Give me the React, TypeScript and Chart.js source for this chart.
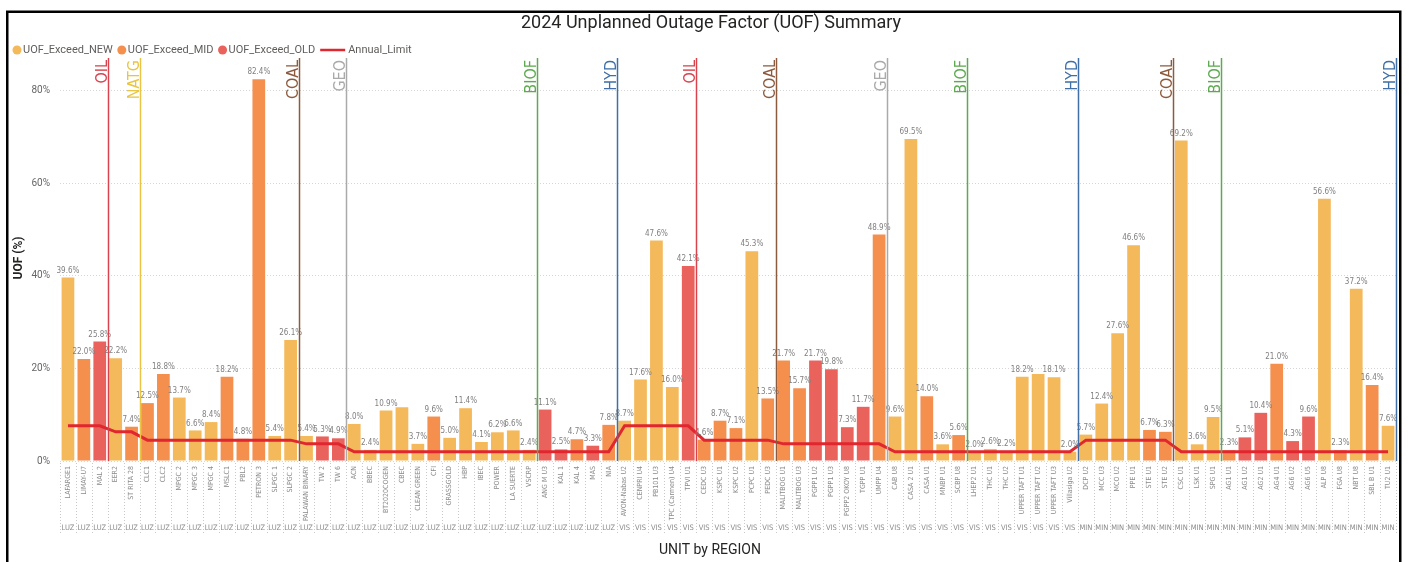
import { useEffect, useRef } from 'react';
import { Chart, registerables } from 'chart.js';
Chart.register(...registerables);

const chartTitle = '2024 Unplanned Outage Factor (UOF) Summary';
const xTitle = 'UNIT by REGION';
const yTitle = 'UOF (%)';
const seriesNames = ['UOF_Exceed_NEW', 'UOF_Exceed_MID', 'UOF_Exceed_OLD'];
const lineName = 'Annual_Limit';
const yTicks = [0, 20, 40, 60, 80];

const units = [
  'LAFARGE1', 'LIMAY-U7', 'MAL 2', 'EER2', 'ST RITA 28', 'CLC1', 'CLC2', 'MPGC 2', 'MPGC 3', 'MPGC 4',
  'MSLC1', 'PBL2', 'PETRON 3', 'SLPGC 1', 'SLPGC 2', 'PALAWAN BINARY', 'TW 2', 'TW 6', 'ACN', 'BBEC',
  'BT2020COGEN', 'CBEC', 'CLEAN GREEN', 'CFI', 'GRASSGOLD', 'HBP', 'IBEC', 'POWER', 'LA SUERTE', 'VSCRP',
  'ANG M U3', 'KAL 1', 'KAL 4', 'MAS', 'NIA',
  'AVON-Nabas U2', 'CENPRI U4', 'PB101 U3', 'TPC (Carmen) U4', 'TPVI U1', 'CEDC U3', 'KSPC U1', 'KSPC U2',
  'PCPC U1', 'PEDC U3', 'MALITBOG U1', 'MALITBOG U3', 'PGPP1 U2', 'PGPP1 U3', 'PGPP2 OKOY U8', 'TGPP U1',
  'UMPP U4', 'CAB U8', 'CASA 2 U1', 'CASA U1', 'MNBP U1', 'SCBP U8', 'LHEP2 U1', 'THC U1', 'THC U2',
  'UPPER TAFT U1', 'UPPER TAFT U2', 'UPPER TAFT U3', 'Villasiga U2',
  'DCP U2', 'MCC U3', 'MCO U2', 'PPE U1', 'STE U1', 'STE U2', 'CSC U1', 'LSK U1', 'SPG U1', 'AG1 U1',
  'AG1 U2', 'AG2 U1', 'AG4 U1', 'AG6 U2', 'AG6 U5', 'ALP U8', 'FGA U8', 'NBT U8', 'SBL B U1', 'TU2 U1',
];

const regions = [
  'LUZ', 'LUZ', 'LUZ', 'LUZ', 'LUZ', 'LUZ', 'LUZ', 'LUZ', 'LUZ', 'LUZ',
  'LUZ', 'LUZ', 'LUZ', 'LUZ', 'LUZ', 'LUZ', 'LUZ', 'LUZ', 'LUZ', 'LUZ',
  'LUZ', 'LUZ', 'LUZ', 'LUZ', 'LUZ', 'LUZ', 'LUZ', 'LUZ', 'LUZ', 'LUZ',
  'LUZ', 'LUZ', 'LUZ', 'LUZ', 'LUZ',
  'VIS', 'VIS', 'VIS', 'VIS', 'VIS', 'VIS', 'VIS', 'VIS', 'VIS', 'VIS',
  'VIS', 'VIS', 'VIS', 'VIS', 'VIS', 'VIS', 'VIS', 'VIS', 'VIS', 'VIS',
  'VIS', 'VIS', 'VIS', 'VIS', 'VIS', 'VIS', 'VIS', 'VIS', 'VIS',
  'MIN', 'MIN', 'MIN', 'MIN', 'MIN', 'MIN', 'MIN', 'MIN', 'MIN', 'MIN',
  'MIN', 'MIN', 'MIN', 'MIN', 'MIN', 'MIN', 'MIN', 'MIN', 'MIN', 'MIN',
];

const fuels = [
  'OIL', 'OIL', 'OIL', 'NATG', 'NATG', 'COAL', 'COAL', 'COAL', 'COAL', 'COAL',
  'COAL', 'COAL', 'COAL', 'COAL', 'COAL', 'GEO', 'GEO', 'GEO', 'BIOF', 'BIOF',
  'BIOF', 'BIOF', 'BIOF', 'BIOF', 'BIOF', 'BIOF', 'BIOF', 'BIOF', 'BIOF', 'BIOF',
  'HYD', 'HYD', 'HYD', 'HYD', 'HYD',
  'OIL', 'OIL', 'OIL', 'OIL', 'OIL', 'COAL', 'COAL', 'COAL', 'COAL', 'COAL',
  'GEO', 'GEO', 'GEO', 'GEO', 'GEO', 'GEO', 'GEO', 'BIOF', 'BIOF', 'BIOF',
  'BIOF', 'BIOF', 'HYD', 'HYD', 'HYD', 'HYD', 'HYD', 'HYD', 'HYD',
  'COAL', 'COAL', 'COAL', 'COAL', 'COAL', 'COAL', 'BIOF', 'BIOF', 'BIOF', 'HYD',
  'HYD', 'HYD', 'HYD', 'HYD', 'HYD', 'HYD', 'HYD', 'HYD', 'HYD', 'HYD',
];

const ageClass = [
  'NEW', 'MID', 'OLD', 'NEW', 'MID', 'MID', 'MID', 'NEW', 'NEW', 'NEW',
  'MID', 'MID', 'MID', 'NEW', 'NEW', 'NEW', 'OLD', 'OLD', 'NEW', 'NEW',
  'NEW', 'NEW', 'NEW', 'MID', 'NEW', 'NEW', 'NEW', 'NEW', 'NEW', 'NEW',
  'OLD', 'OLD', 'MID', 'OLD', 'MID',
  'NEW', 'NEW', 'NEW', 'NEW', 'OLD', 'MID', 'MID', 'MID', 'NEW', 'MID',
  'MID', 'MID', 'OLD', 'OLD', 'OLD', 'OLD', 'MID', 'NEW', 'NEW', 'MID',
  'NEW', 'MID', 'NEW', 'NEW', 'NEW', 'NEW', 'NEW', 'NEW', 'NEW',
  'NEW', 'NEW', 'NEW', 'NEW', 'MID', 'MID', 'NEW', 'NEW', 'NEW', 'MID',
  'OLD', 'OLD', 'MID', 'OLD', 'OLD', 'NEW', 'MID', 'NEW', 'MID', 'NEW',
];

const uofValues = [
  39.6, 22.0, 25.8, 22.2, 7.4, 12.5, 18.8, 13.7, 6.6, 8.4,
  18.2, 4.8, 82.4, 5.4, 26.1, 5.4, 5.3, 4.9, 8.0, 2.4,
  10.9, 11.6, 3.7, 9.6, 5.0, 11.4, 4.1, 6.2, 6.6, 2.4,
  11.1, 2.5, 4.7, 3.3, 7.8,
  8.7, 17.6, 47.6, 16.0, 42.1, 4.6, 8.7, 7.1, 45.3, 13.5,
  21.7, 15.7, 21.7, 19.8, 7.3, 11.7, 48.9, 9.6, 69.5, 14.0,
  3.6, 5.6, 2.0, 2.6, 2.2, 18.2, 18.8, 18.1, 2.0,
  5.7, 12.4, 27.6, 46.6, 6.7, 6.3, 69.2, 3.6, 9.5, 2.3,
  5.1, 10.4, 21.0, 4.3, 9.6, 56.6, 2.3, 37.2, 16.4, 7.6,
];

const annualLimit = [
  7.6, 7.6, 7.6, 6.3, 6.3, 4.5, 4.5, 4.5, 4.5, 4.5,
  4.5, 4.5, 4.5, 4.5, 4.5, 3.7, 3.7, 3.7, 2.0, 2.0,
  2.0, 2.0, 2.0, 2.0, 2.0, 2.0, 2.0, 2.0, 2.0, 2.0,
  2.0, 2.0, 2.0, 2.0, 2.0,
  7.6, 7.6, 7.6, 7.6, 7.6, 4.5, 4.5, 4.5, 4.5, 4.5,
  3.7, 3.7, 3.7, 3.7, 3.7, 3.7, 3.7, 2.0, 2.0, 2.0,
  2.0, 2.0, 2.0, 2.0, 2.0, 2.0, 2.0, 2.0, 2.0,
  4.5, 4.5, 4.5, 4.5, 4.5, 4.5, 2.0, 2.0, 2.0, 2.0,
  2.0, 2.0, 2.0, 2.0, 2.0, 2.0, 2.0, 2.0, 2.0, 2.0,
];

const hiddenLabels = ['CBEC', 'UPPER TAFT U2'];

const ageKeys = ['NEW', 'MID', 'OLD'];
const barColors = ['#F4B95A', '#F58F4E', '#E9625C'];
const lineColor = '#E0262E';
const fuelColors: Record<string, string> = {
  OIL: '#D9434E',
  NATG: '#E8C542',
  COAL: '#8C5B3E',
  GEO: '#AAAAAA',
  BIOF: '#5DAA50',
  HYD: '#3F6FA6',
};

const NARROW = "'Liberation Sans Narrow', 'DejaVu Sans Condensed', sans-serif";

const overlayPlugin = {
  id: 'overlay',
  afterDatasetsDraw(chart: any) {
    const { ctx, chartArea, scales } = chart;
    const xs = scales.x;
    const n = units.length;
    const step = xs.getPixelForValue(1) - xs.getPixelForValue(0);
    ctx.save();
    // data labels
    ctx.font = `8px ${NARROW}`;
    ctx.fillStyle = '#808080';
    ctx.textAlign = 'center';
    ctx.textBaseline = 'bottom';
    for (let d = 0; d < 3; d++) {
      const meta = chart.getDatasetMeta(d);
      const data = chart.data.datasets[d].data;
      meta.data.forEach((el: any, i: number) => {
        const v = data[i];
        if (v === null || v === undefined) return;
        if (hiddenLabels.includes(units[i])) return;
        ctx.fillText(v.toFixed(1) + '%', el.x, el.y - 3);
      });
    }
    // fuel separators
    for (let i = 0; i < n; i++) {
      const end = i === n - 1 || fuels[i + 1] !== fuels[i] || regions[i + 1] !== regions[i];
      if (!end) continue;
      const bx = Math.round(xs.getPixelForValue(i) + step / 2) + 0.5;
      const col = fuelColors[fuels[i]];
      ctx.strokeStyle = col;
      ctx.lineWidth = 1.5;
      ctx.setLineDash([]);
      ctx.beginPath();
      ctx.moveTo(bx, chartArea.top);
      ctx.lineTo(bx, chartArea.bottom);
      ctx.stroke();
      ctx.save();
      ctx.translate(bx - 2, chartArea.top + 2);
      ctx.rotate(-Math.PI / 2);
      ctx.font = `16px ${"'DejaVu Sans Condensed', 'Liberation Sans Narrow', sans-serif"}`;
      ctx.fillStyle = col;
      ctx.textAlign = 'right';
      ctx.textBaseline = 'alphabetic';
      ctx.fillText(fuels[i], 0, 0);
      ctx.restore();
    }
    ctx.restore();
  },
  afterDraw(chart: any) {
    const { ctx, chartArea, scales } = chart;
    const xs = scales.x;
    const n = units.length;
    const step = xs.getPixelForValue(1) - xs.getPixelForValue(0);
    ctx.save();
    // frame
    ctx.strokeStyle = '#000';
    ctx.lineWidth = 2.5;
    ctx.strokeRect(7.25, 11.75, 1393, 620);
    // title
    ctx.font = '18px Roboto, sans-serif';
    ctx.fillStyle = '#252423';
    ctx.textAlign = 'center';
    ctx.textBaseline = 'middle';
    ctx.fillText(chartTitle, 711, 23);
    // legend
    let lx = 12;
    const ly = 50;
    ctx.font = '11px Roboto, sans-serif';
    ctx.textAlign = 'left';
    ctx.textBaseline = 'middle';
    seriesNames.forEach((name, k) => {
      ctx.fillStyle = barColors[k];
      ctx.beginPath();
      ctx.arc(lx + 5, ly, 4.5, 0, Math.PI * 2);
      ctx.fill();
      ctx.fillStyle = '#605E5C';
      ctx.fillText(name, lx + 11, ly);
      lx += 11 + ctx.measureText(name).width + 4;
    });
    ctx.strokeStyle = lineColor;
    ctx.lineWidth = 2.5;
    ctx.beginPath();
    ctx.moveTo(lx + 1, ly);
    ctx.lineTo(lx + 26, ly);
    ctx.stroke();
    ctx.fillStyle = '#605E5C';
    ctx.fillText(lineName, lx + 29, ly);
    // y title
    ctx.save();
    ctx.translate(19, 258);
    ctx.rotate(-Math.PI / 2);
    ctx.font = 'bold 12px Roboto, sans-serif';
    ctx.fillStyle = '#252423';
    ctx.textAlign = 'center';
    ctx.textBaseline = 'middle';
    ctx.fillText(yTitle, 0, 0);
    ctx.restore();
    // category dotted separators in axis area
    ctx.strokeStyle = '#c8c8c8';
    ctx.lineWidth = 1;
    ctx.setLineDash([1, 2]);
    for (let i = 0; i <= n; i++) {
      const bx = Math.round(xs.getPixelForValue(0) - step / 2 + i * step) + 0.5;
      ctx.beginPath();
      ctx.moveTo(bx, chartArea.bottom + 2);
      ctx.lineTo(bx, 534);
      ctx.stroke();
    }
    ctx.setLineDash([]);
    // region labels
    ctx.font = `7.5px ${NARROW}`;
    ctx.fillStyle = '#8a8a8a';
    ctx.textAlign = 'center';
    ctx.textBaseline = 'middle';
    for (let i = 0; i < n; i++) {
      ctx.fillText(regions[i], xs.getPixelForValue(i), 528);
    }
    // x title
    ctx.font = '14px Roboto, sans-serif';
    ctx.fillStyle = '#252423';
    ctx.fillText(xTitle, 710, 550);
    ctx.restore();
  },
};

export default function App() {
  const ref = useRef<HTMLCanvasElement>(null);
  useEffect(() => {
    if (!ref.current) return;
    const barSets = ageKeys.map((key, k) => ({
      type: 'bar' as const,
      label: seriesNames[k],
      data: uofValues.map((v, i) => (ageClass[i] === key ? v : null)),
      backgroundColor: barColors[k],
      borderWidth: 0,
      barPercentage: 0.8,
      categoryPercentage: 1,
      order: 1,
      stack: 's',
    }));
    const chart = new Chart(ref.current, {
      type: 'bar',
      data: {
        labels: units,
        datasets: [
          ...barSets,
          {
            type: 'line' as const,
            label: lineName,
            data: annualLimit,
            borderColor: lineColor,
            borderWidth: 3,
            pointRadius: 0,
            tension: 0,
            order: 0,
          } as any,
        ],
      },
      options: {
        responsive: false,
        animation: false,
        layout: { padding: { top: 58, right: 14, left: 0, bottom: 0 } },
        plugins: { legend: { display: false }, title: { display: false }, tooltip: { enabled: false } },
        scales: {
          x: {
            stacked: true,
            grid: { display: false, drawTicks: false },
            border: { display: false },
            ticks: {
              autoSkip: false,
              minRotation: 90,
              maxRotation: 90,
              padding: 5,
              color: '#8a8a8a',
              font: { family: NARROW, size: 7 },
            },
            afterFit: (s: any) => {
              s.height = 101;
            },
          },
          y: {
            stacked: true,
            min: 0,
            max: 87,
            afterBuildTicks: (s: any) => {
              s.ticks = yTicks.map((v) => ({ value: v }));
            },
            ticks: {
              includeBounds: false,
              padding: 10,
              color: '#666666',
              font: { family: 'Roboto, sans-serif', size: 10 },
              callback: (v: any) => v + '%',
            },
            grid: { color: '#d6d6d6', drawTicks: false, lineWidth: 1 },
            border: { display: false, dash: [1, 2] },
            afterFit: (s: any) => {
              s.width = 60;
            },
          },
        },
      },
      plugins: [overlayPlugin],
    });
    return () => chart.destroy();
  }, []);
  return (
    <div style={{ position: 'fixed', left: 0, top: 0, width: 1410, height: 562, background: '#fff' }}>
      <canvas ref={ref} width={1410} height={562} style={{ display: 'block' }} />
    </div>
  );
}
